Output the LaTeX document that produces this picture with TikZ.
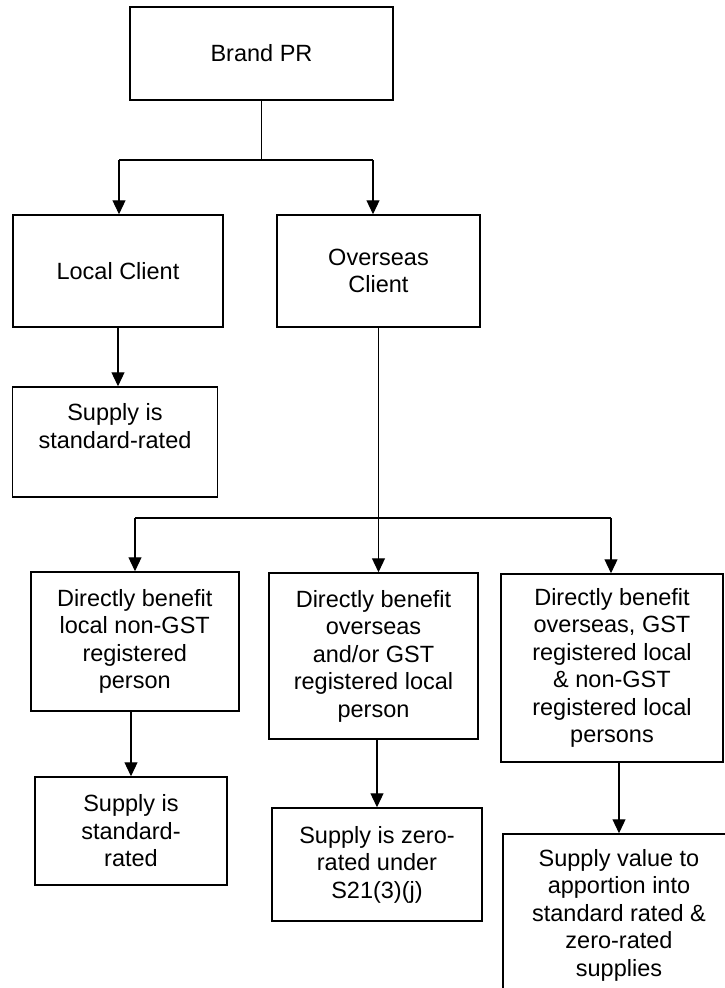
\documentclass[tikz,border=0pt]{standalone}
\usepackage{fontspec}
\setmainfont{Liberation Sans}
\usetikzlibrary{arrows.meta,positioning}

\begin{document}
\begin{tikzpicture}[
      x=1pt, y=-1pt,
      box/.style={
         rectangle,
         draw=black,
         line width=1.5pt,
         inner sep=0pt,
         align=center,
         font=\fontsize{23.5}{27.5}\selectfont
      },
      >={Triangle[length=14pt,width=13pt]},line width=1.2pt,
      tip/.style={->},
    ]
  \useasboundingbox (0,0) rectangle (725,988);
  \node (n1)  [box, minimum width=263pt, minimum height=93pt]  at (261.5,53.5) {Brand PR};
  \node (n21) [box, minimum width=210pt, minimum height=112pt] at (118,271)    {Local Client};
  \node (n22) [box, minimum width=203pt, minimum height=112pt] at (378.5,271)  {Overseas\\Client};
  \node (n31) [box, minimum width=205pt, minimum height=110pt] at (115,442)    {Supply is\\standard-rated\\[5pt]~};
  \node (n41) [box, minimum width=208pt, minimum height=139pt] at (134.75,641.5)
     {Directly benefit\\local non-GST\\registered\\person};
  \node (n42) [box, minimum width=209pt, minimum height=166pt] at (373.5,656)
     {Directly benefit\\overseas\\and/or GST\\registered local\\person};
  \node (n43) [box, minimum width=222pt, minimum height=188pt] at (612,668)
     {Directly benefit\\overseas, GST\\registered local\\\& non-GST\\registered local\\persons};
  \node (n51) [box, minimum width=192pt, minimum height=108pt] at (131,831)    {Supply is\\standard-\\rated};
  \node (n52) [box, minimum width=210pt, minimum height=113pt] at (377,864.5)  {Supply is zero-\\rated under\\S21(3)(j)};
  \node (n53) [box, minimum width=232pt, minimum height=162pt] at (619,915)
     {Supply value to\\apportion into\\standard rated \&\\zero-rated\\supplies};
  % top split
  \coordinate (c1l) at (119,160);
  \coordinate (c1r) at (373,160);
  \draw (n1.south) -- (n1.south |- c1l);
  \draw (c1l) -- (c1r);
  \draw[tip] (c1l) -- (c1l |- n21.north);
  \draw[tip] (c1r) -- (c1r |- n22.north);
  \draw[tip] (n21.south) -- (n21.south |- n31.north);
  % overseas split
  \coordinate (c2l) at (135,518);
  \coordinate (c2r) at (611,518);
  \draw (n22.south) -- (n22.south |- c2l);
  \draw (c2l) -- (c2r);
  \draw[tip] (c2l) -- (c2l |- n41.north);
  \draw[tip] (n22.south |- c2l) -- (n22.south |- n42.north);
  \draw[tip] (c2r) -- (c2r |- n43.north);
  \draw[tip] (n41.south -| n51.north) -- (n51.north);
  \draw[tip] (n42.south -| n52.north) -- (n52.north);
  \draw[tip] (n43.south -| n53.north) -- (n53.north);
\end{tikzpicture}
\end{document}
